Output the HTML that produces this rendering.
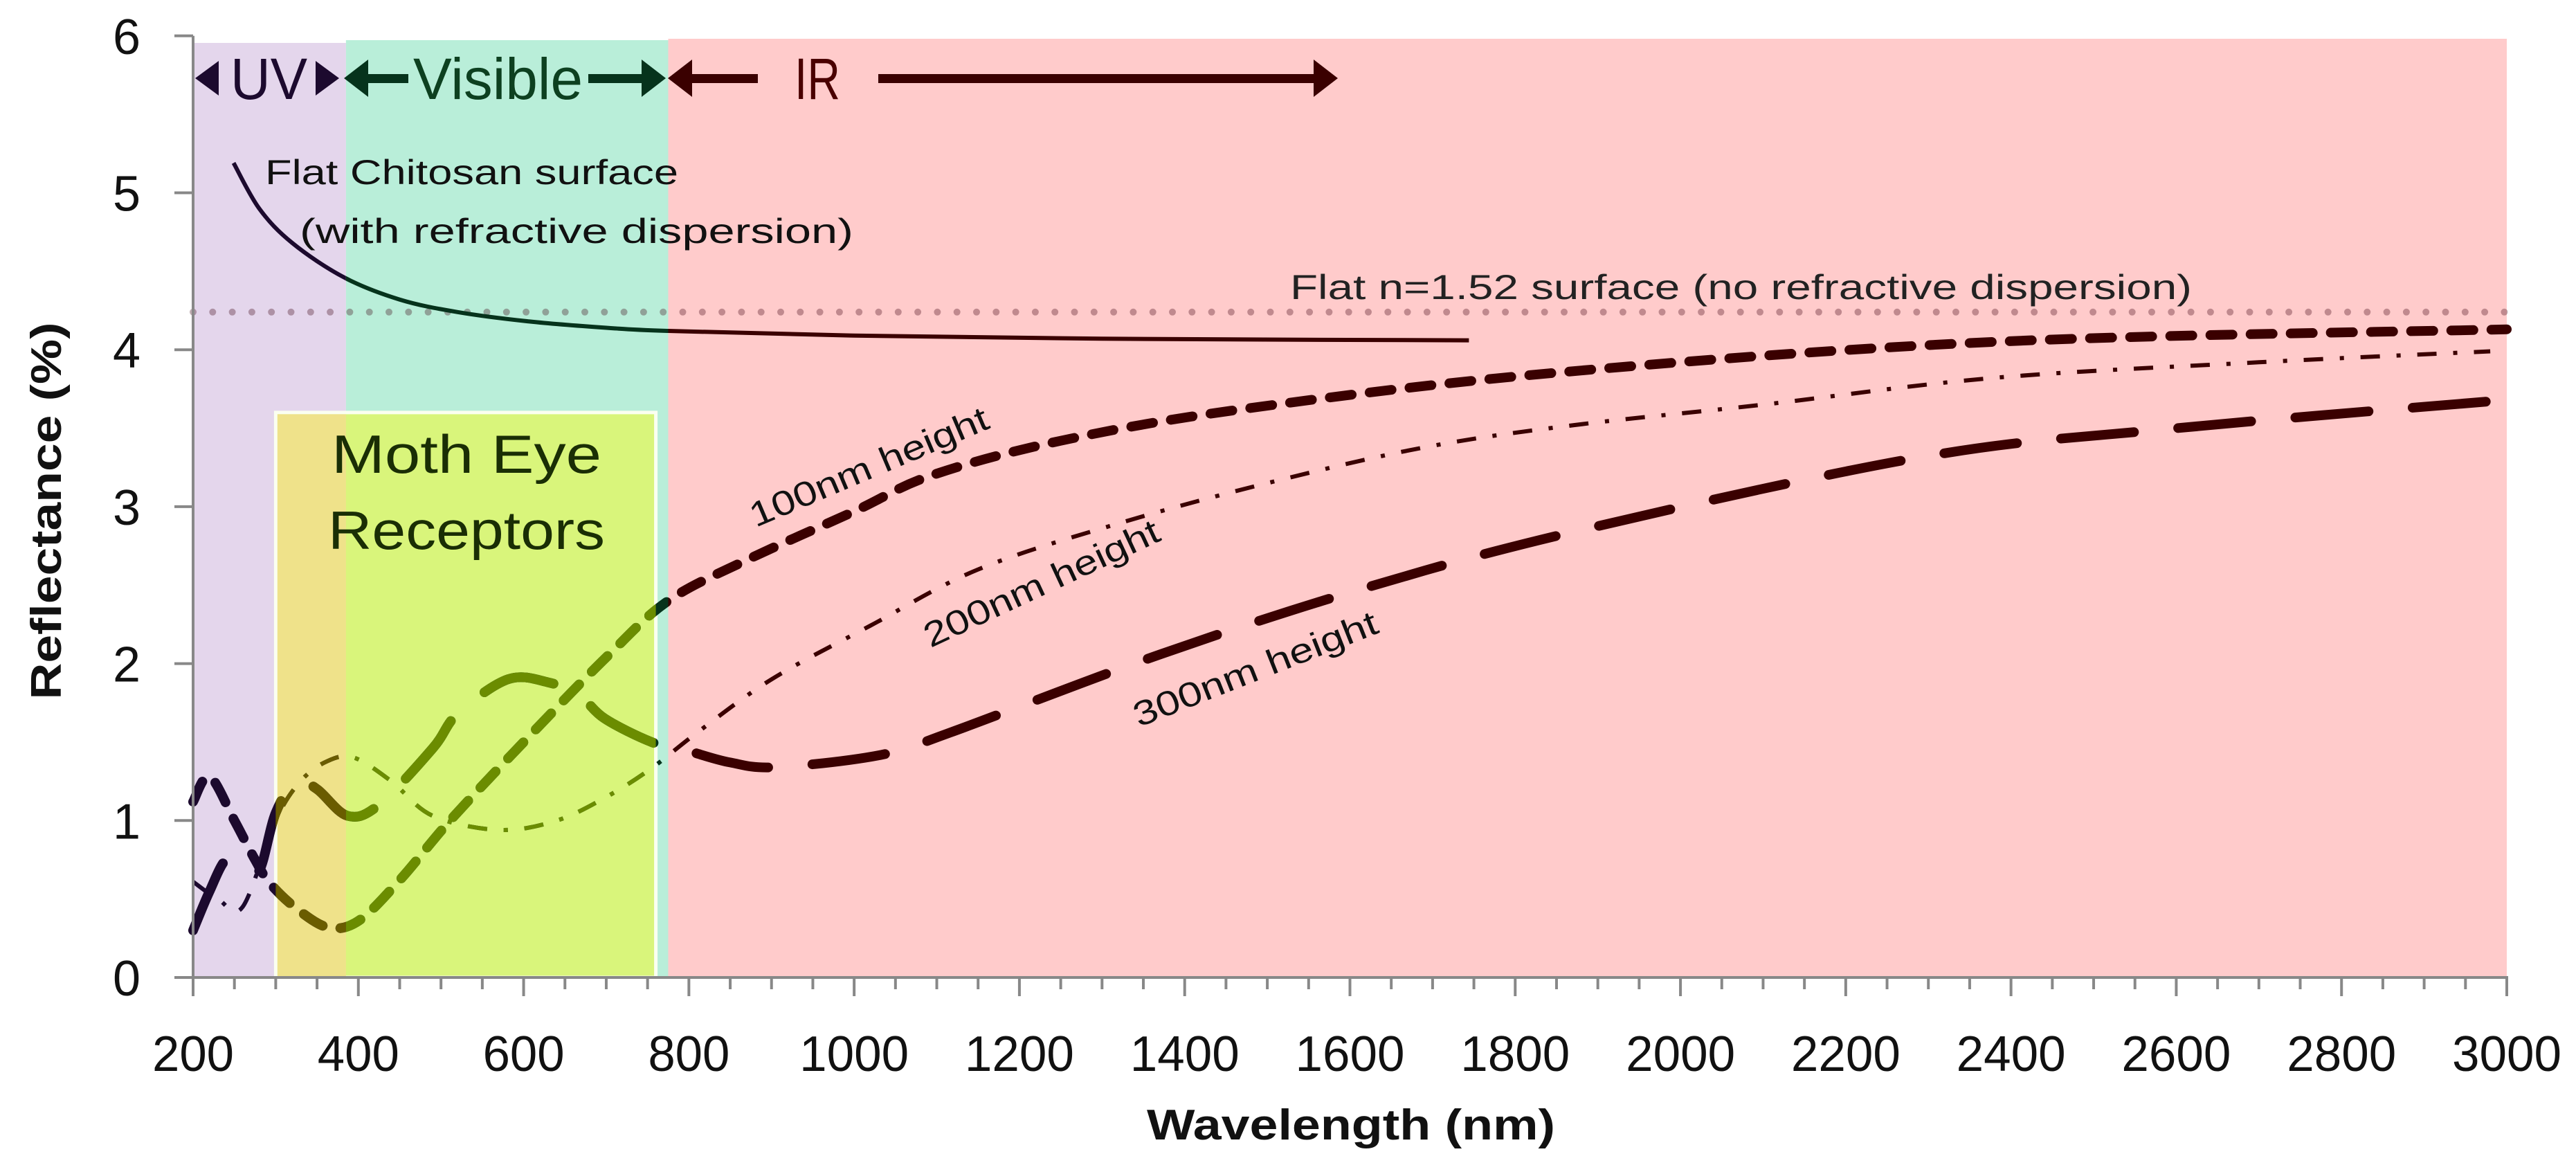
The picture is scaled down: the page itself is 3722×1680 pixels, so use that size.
<!DOCTYPE html>
<html><head><meta charset="utf-8"><style>
html,body{margin:0;padding:0;background:#fff;}
svg{display:block;font-family:"Liberation Sans Narrow","Liberation Sans",sans-serif;}
</style></head><body>
<svg id="chart" width="3722" height="1680" viewBox="0 0 3722 1680" xmlns="http://www.w3.org/2000/svg">
<defs>
<clipPath id="cUV"><rect x="0" y="0" width="0" height="1680"/></clipPath>
<clipPath id="cVis"><rect x="0" y="0" width="0" height="1680"/></clipPath>
<clipPath id="cIR"><rect x="0" y="0" width="0" height="1680"/></clipPath>
<clipPath id="cBoxA"><rect x="0" y="0" width="0" height="0"/></clipPath>
<clipPath id="cBoxB"><rect x="0" y="0" width="0" height="0"/></clipPath>
</defs>
<g id="bg"></g>
<g id="curvesSrc"></g>
<g id="layers"></g>
<g id="axes"></g>
</svg>
<script>
const xTicks=[200,400,600,800,1000,1200,1400,1600,1800,2000,2200,2400,2600,2800,3000];
const yTicks=[0,1,2,3,4,5,6];
const regionUV=[200,385];
const regionVis=[385,775];
const regionIR=[775,3000];
const mothBox=[300,760];
const mothBoxTop=3.6;
const flatN=4.24;
const chitosanX=[249,280,320,383,450,520,607,700,774,1000,1300,1744];
const chitosanY=[5.19,4.9,4.68,4.46,4.32,4.24,4.18,4.14,4.12,4.09,4.07,4.06];
const h100X=[200,220,250,275,293,325,363,400,450,511,600,700,775,870,1000,1094,1250,1468,1842,2378,3000];
const h100Y=[1.12,1.28,1.0,0.75,0.6,0.44,0.32,0.36,0.62,1.0,1.5,2.04,2.4,2.66,2.97,3.2,3.42,3.62,3.85,4.05,4.13];
const h200X=[200,230,260,300,330,363,395,440,490,571,640,700,754,810,900,1019,1150,1318,1500,1692,1872,2100,2378,2700,2980];
const h200Y=[0.61,0.5,0.45,1.0,1.25,1.38,1.4,1.25,1.03,0.94,1.0,1.15,1.33,1.56,1.9,2.24,2.6,2.89,3.15,3.38,3.52,3.65,3.82,3.92,3.99];
const h300X=[200,220,240,260,280,300,325,350,387,425,490,520,581,630,667,698,755,795,850,907,1034,1116,1371,1617,1879,2296,2600,3000];
const h300Y=[0.3,0.55,0.75,0.7,0.68,1.05,1.25,1.2,1.03,1.1,1.46,1.68,1.9,1.88,1.8,1.65,1.5,1.45,1.37,1.34,1.42,1.56,2.06,2.48,2.85,3.32,3.5,3.68];

(function(){
const NS="http://www.w3.org/2000/svg";
const X=nm=>279+(nm-200)*(3343/2800);
const Y=v=>1412-v*226.7;
function mk(tag,attrs,parent){const e=document.createElementNS(NS,tag);for(const k in attrs)e.setAttribute(k,attrs[k]);parent.appendChild(e);return e;}
function smooth(xs,ys){
  const p=xs.map((x,i)=>[X(x),Y(ys[i])]);
  let d="M"+p[0][0].toFixed(1)+" "+p[0][1].toFixed(1);
  for(let i=0;i<p.length-1;i++){
    const p0=p[i-1]||p[i],p1=p[i],p2=p[i+1],p3=p[i+2]||p2;
    const c1=[p1[0]+(p2[0]-p0[0])/6,p1[1]+(p2[1]-p0[1])/6];
    const c2=[p2[0]-(p3[0]-p1[0])/6,p2[1]-(p3[1]-p1[1])/6];
    d+=" C"+c1[0].toFixed(1)+" "+c1[1].toFixed(1)+" "+c2[0].toFixed(1)+" "+c2[1].toFixed(1)+" "+p2[0].toFixed(1)+" "+p2[1].toFixed(1);
  }
  return d;
}
const bg=document.getElementById('bg');
const plotTop=58, plotBottom=Y(0);
function setClip(id,x1,x2,y1,y2){const r=document.querySelector('#'+id+' rect');r.setAttribute('x',x1);r.setAttribute('width',x2-x1);r.setAttribute('y',y1);r.setAttribute('height',y2-y1);}
setClip('cUV',0,X(regionUV[1]),0,1680);
setClip('cVis',X(regionVis[0]),X(regionVis[1]),0,1680);
setClip('cIR',X(regionIR[0]),3722,0,1680);
setClip('cBoxA',X(mothBox[0]),X(regionUV[1]),Y(mothBoxTop),plotBottom);
setClip('cBoxB',X(regionVis[0]),X(mothBox[1]),Y(mothBoxTop),plotBottom);
let r;
r=mk('rect',{x:X(regionUV[0]),y:plotTop+4,width:X(regionUV[1])-X(regionUV[0]),height:plotBottom-plotTop-4,fill:'#e4d6ec'},bg);


r=mk('rect',{x:X(regionVis[0]),y:plotTop,width:X(regionVis[1])-X(regionVis[0]),height:plotBottom-plotTop,fill:'#b9eed9'},bg);


r=mk('rect',{x:X(regionIR[0]),y:plotTop-2,width:X(regionIR[1])-X(regionIR[0]),height:plotBottom-plotTop+2,fill:'#ffcbcb'},bg);


r=mk('rect',{x:X(mothBox[0]),y:Y(mothBoxTop),width:X(mothBox[1])-X(mothBox[0]),height:plotBottom-Y(mothBoxTop),fill:'#d9f57b',stroke:'#fbfff0','stroke-width':5},bg);


r=mk('rect',{x:X(mothBox[0])+2.5,y:Y(mothBoxTop)+2.5,width:X(regionUV[1])-X(mothBox[0])-2.5,height:plotBottom-Y(mothBoxTop)-2.5,fill:'#efe28a'},bg);


let dl=mk('line',{x1:X(200),x2:X(3000),y1:Y(flatN),y2:Y(flatN),stroke:'#3b0010','stroke-opacity':0.32,'stroke-width':10,'stroke-linecap':'round','stroke-dasharray':'0 28.3'},bg);


const src=document.getElementById('curvesSrc');
src.setAttribute('visibility','hidden');
let p;
p=mk('path',{id:'curveChitosan',d:smooth(chitosanX,chitosanY),fill:'none','stroke-width':6},src);


p=mk('path',{id:'curve100',d:smooth(h100X,h100Y),fill:'none','stroke-width':14,'stroke-linecap':'round','stroke-dasharray':'32 26'},src);


p=mk('path',{id:'curve200',d:smooth(h200X,h200Y),fill:'none','stroke-width':6,'stroke-dasharray':'28 24 6 24'},src);


p=mk('path',{id:'curve300',d:smooth(h300X,h300Y),fill:'none','stroke-width':14,'stroke-linecap':'round','stroke-dasharray':'106 64'},src);


const layers=document.getElementById('layers');
[['cUV','#1c0a2e'],['cVis','#06331c'],['cIR','#3a0000'],['cBoxA','#6a5c00'],['cBoxB','#6b8c00']].forEach(([c,col])=>{
  const g=mk('g',{'clip-path':'url(#'+c+')',stroke:col},layers);
  
  
  ['curveChitosan','curve100','curve200','curve300'].forEach(id=>{
    const u=mk('use',{href:'#'+id,visibility:'visible'},g);
    
    
  });
});
const ax=document.getElementById('axes');
let a=mk('line',{x1:X(200),x2:X(200),y1:Y(6),y2:plotBottom,stroke:'#888','stroke-width':4},ax);


a=mk('line',{x1:X(200)-27,x2:X(3000)+2,y1:plotBottom,y2:plotBottom,stroke:'#888','stroke-width':4},ax);


yTicks.forEach(v=>{
  const t=mk('line',{x1:X(200)-27,x2:X(200),y1:Y(v),y2:Y(v),stroke:'#888','stroke-width':4},ax);
  
  
  const tx=mk('text',{x:203,y:Y(v)+26,'text-anchor':'end','font-size':72,fill:'#111','font-family':'Liberation Sans, sans-serif'},ax);
  tx.textContent=String(v);
  
  
});
for(let nm=200;nm<=3000;nm+=50){
  const major=nm%200===0;
  const t=mk('line',{x1:X(nm),x2:X(nm),y1:plotBottom,y2:plotBottom+(major?27:17),stroke:'#888','stroke-width':4},ax);
  
  
}
xTicks.forEach(nm=>{
  const tx=mk('text',{x:X(nm),y:1547,'text-anchor':'middle','font-size':72,fill:'#111','font-family':'Liberation Sans, sans-serif',textLength:nm>=1000?158:118,lengthAdjust:'spacingAndGlyphs'},ax);
  tx.textContent=String(nm);
  
  
});
})();
</script>
<svg style="position:absolute;left:0;top:0" width="3722" height="1680" viewBox="0 0 3722 1680" xmlns="http://www.w3.org/2000/svg">
<g font-family="Liberation Sans Narrow, Liberation Sans, sans-serif">
<text x="0" y="0" transform="translate(88,738) rotate(-90)" text-anchor="middle" font-size="62" font-weight="bold" fill="#111" font-family="Liberation Sans, sans-serif" textLength="545" lengthAdjust="spacingAndGlyphs">Reflectance (%)</text>
<text x="1952" y="1646" text-anchor="middle" font-size="62" font-weight="bold" fill="#111" font-family="Liberation Sans, sans-serif" textLength="590" lengthAdjust="spacingAndGlyphs">Wavelength (nm)</text>
<polygon points="282,113 316,88 316,138" fill="#1c0a2e"/>
<text x="333" y="143" font-size="84" fill="#1c0a2e" textLength="111" lengthAdjust="spacingAndGlyphs">UV</text>
<polygon points="490,113 456,88 456,138" fill="#1c0a2e"/>
<polygon points="497,113 532,86 532,107 590,107 590,120 532,120 532,140" fill="#06331c"/>
<text x="597" y="143" font-size="84" fill="#0d4020" textLength="245" lengthAdjust="spacingAndGlyphs">Visible</text>
<polygon points="962,113 927,86 927,107 850,107 850,120 927,120 927,140" fill="#06331c"/>
<polygon points="965,113 1000,86 1000,107 1095,107 1095,120 1000,120 1000,140" fill="#3a0000"/>
<text x="1148" y="143" font-size="84" fill="#4a0000" textLength="66" lengthAdjust="spacingAndGlyphs">IR</text>
<polygon points="1933,113 1898,86 1898,107 1269,107 1269,120 1898,120 1898,140" fill="#3a0000"/>
<text x="383" y="266" font-size="50" fill="#111" textLength="597" lengthAdjust="spacingAndGlyphs">Flat Chitosan surface</text>
<text x="433" y="351" font-size="50" fill="#111" textLength="800" lengthAdjust="spacingAndGlyphs">(with refractive dispersion)</text>
<text x="1864" y="432" font-size="50" fill="#222" textLength="1303" lengthAdjust="spacingAndGlyphs">Flat n=1.52 surface (no refractive dispersion)</text>
<text x="0" y="0" transform="translate(1262,690) rotate(-23)" text-anchor="middle" font-size="50" fill="#111" textLength="370" lengthAdjust="spacingAndGlyphs">100nm height</text>
<text x="0" y="0" transform="translate(1512,858) rotate(-25)" text-anchor="middle" font-size="50" fill="#111" textLength="370" lengthAdjust="spacingAndGlyphs">200nm height</text>
<text x="0" y="0" transform="translate(1820,982) rotate(-21.5)" text-anchor="middle" font-size="50" fill="#111" textLength="375" lengthAdjust="spacingAndGlyphs">300nm height</text>
<text x="674" y="683" text-anchor="middle" font-size="78" fill="#1a2e05" textLength="390" lengthAdjust="spacingAndGlyphs">Moth Eye</text>
<text x="674" y="793" text-anchor="middle" font-size="78" fill="#1a2e05" textLength="400" lengthAdjust="spacingAndGlyphs">Receptors</text>
</g>
</svg>
</body></html>
